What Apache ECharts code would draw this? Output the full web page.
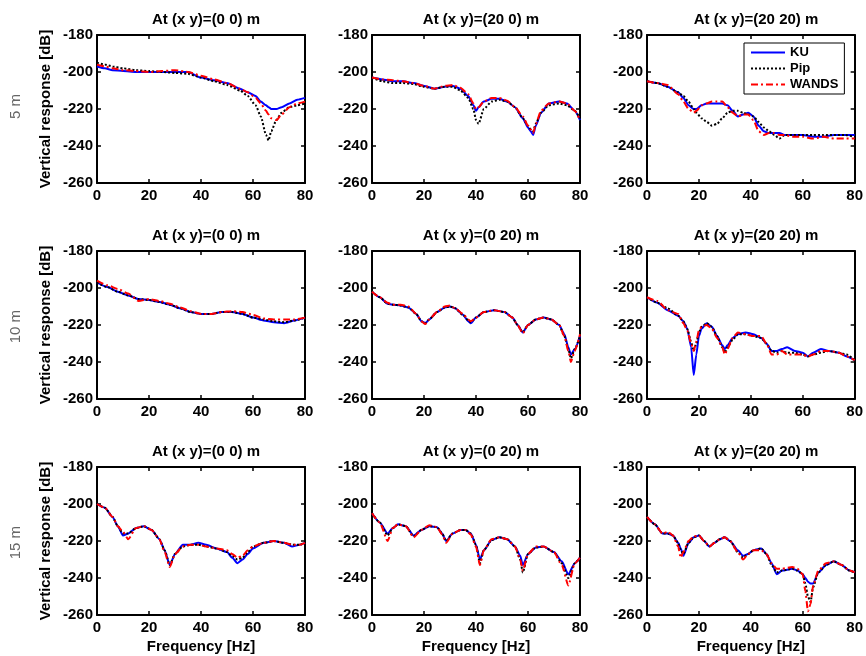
<!DOCTYPE html>
<html>
<head>
<meta charset="utf-8">
<script src="https://cdn.jsdelivr.net/npm/echarts@6/dist/echarts.min.js"></script>
<style>html,body{margin:0;padding:0;background:#fff}#c{width:866px;height:656px}</style>
</head>
<body>
<div id="c"></div>
<script>
// ---- tick labels / categories ----
const xTicks = [0, 20, 40, 60, 80];
const yTicks = [-260, -240, -220, -200, -180];
const seriesNames = ['KU', 'Pip', 'WANDS'];
const rowLabels = ['5 m', '10 m', '15 m'];
const panelTitles = [
  'At (x y)=(0 0) m', 'At (x y)=(20 0) m', 'At (x y)=(20 20) m',
  'At (x y)=(0 0) m', 'At (x y)=(0 20) m', 'At (x y)=(20 20) m',
  'At (x y)=(0 0) m', 'At (x y)=(0 20) m', 'At (x y)=(20 20) m'
];

// ---- Panel 1: 5 m, (0 0) ----
const f1 = [0,3,6,10,15,20,25,30,35,40,45,50,55,58,61,63,65,66,67,69,71,74,77,80];
const ku1 = [-197,-198,-199,-199.5,-200,-200,-200,-200,-200,-203,-204.5,-206,-209,-211,-213,-216,-218,-219,-220,-220,-219,-217,-215,-214];
const pip1 = [-195,-196,-197,-198,-199,-199.5,-200,-200.5,-201,-203,-205,-207,-210,-213,-218,-224,-234,-237,-232,-226,-222,-219,-218,-217];
const wands1 = [-196,-197,-198,-199,-199.5,-200,-199.5,-199,-200,-202,-204,-206,-209,-211,-214,-217,-221,-223,-225,-226,-223,-219,-217,-216];

// ---- Panel 2: 5 m, (20 0) ----
const f2 = [0,4,8,12,16,20,24,28,31,34,37,39,40,41,43,46,49,52,55,58,60,61,62,63,65,68,72,75,78,80];
const ku2 = [-203,-204,-205,-205,-206,-207.5,-209,-208,-207.5,-209,-213,-218,-221,-219,-216,-214.5,-214.5,-216,-219,-225,-230,-232,-234,-229,-222,-217,-216,-217,-221,-226];
const pip2 = [-203,-205,-206,-206,-206.5,-208,-209,-208,-208,-210,-214,-220,-226,-228,-220,-216,-215,-216,-219,-225,-229,-231,-232,-228,-222,-218,-217,-218,-221,-225];
const wands2 = [-203,-204,-204.5,-205,-206,-207.5,-209,-207.5,-207,-208.5,-212,-217,-220,-219,-216,-214,-214,-215.5,-219,-224,-229,-231,-233,-228,-221,-217,-216,-217,-221,-226];

// ---- Panel 3: 5 m, (20 20) ----
const f3 = [0,4,8,12,14,16,18,19,21,23,25,27,29,31,33,35,37,39,41,43,45,47,49,51,53,56,60,64,68,72,76,80];
const ku3 = [-205,-206,-208,-211,-214,-218,-220,-220,-218,-217,-217,-217,-217,-218,-221,-224,-223,-222,-224,-229,-232,-233,-233,-233,-234,-234,-234,-235,-235,-234,-234,-234];
const pip3 = [-205,-206,-208,-211,-213,-216,-220,-222,-225,-227,-229,-228,-225,-222,-221,-221,-222,-223,-224,-227,-230,-232,-234,-236,-234,-234,-234,-234,-234,-234,-234,-235];
const wands3 = [-205,-206,-207,-212,-216,-220,-222,-221,-218,-217,-216,-216,-216,-219,-222,-224,-223,-223,-226,-232,-234,-233,-233,-234,-234,-235,-235,-236,-235,-236,-236,-236];

// ---- Panel 4: 10 m, (0 0) ----
const f4 = [0,4,8,12,16,20,24,28,32,36,40,44,48,52,56,60,64,68,72,76,80];
const ku4 = [-197,-199.5,-202,-204,-206,-206.5,-207.5,-209,-211,-213,-214,-214,-213,-213,-214,-216,-217.5,-218.5,-219,-217.5,-216];
const pip4 = [-197,-199.5,-202,-204,-206,-206.5,-207.5,-209,-211,-213,-214,-214,-213,-213,-214,-216,-217,-218,-218.5,-217.5,-216];
const wands4 = [-196,-198.5,-200.5,-203,-207,-206,-207,-208.5,-210.5,-212.5,-214,-214,-213,-212.5,-213,-214.5,-216.5,-217,-217,-217,-216];

// ---- Panel 5: 10 m, (0 20) ----
const f5 = [0,3,6,8,11,14,17,19,20.5,22,25,28,30,32,35,37,38,40,43,47,51,54,56,58,60,63,66,69,72,74,75.5,76.5,78,80];
const ku5 = [-202,-205,-208.5,-209,-209.5,-210.5,-214,-218,-219,-217,-213,-210.5,-210,-211,-214.5,-218,-219,-216,-213,-212,-213,-216,-220,-224,-220,-217,-216,-217,-220,-225,-232,-236,-233,-226];
const pip5 = [-202,-205,-208.5,-209,-209.5,-210.5,-214,-218,-219,-217,-213,-210.5,-210,-211,-214.5,-217.5,-218.5,-216,-213,-212,-213,-216,-220,-224,-220,-217,-216,-217,-220,-226,-233,-238,-233,-226];
const wands5 = [-202,-205,-208,-209,-209,-210,-214,-218,-219.5,-217,-213,-210,-209.5,-211,-214,-217,-218,-216,-213,-212,-213,-216,-220,-224.5,-220,-217,-216,-217,-220,-226,-234,-240,-234,-225];

// ---- Panel 6: 10 m, (20 20) ----
const f6 = [0,4,8,12,14,15.5,17,18,19,20,21,23,25,27,29,30,31,33,35,38,41,44,46,48,50,52,54,57,60,62,64,67,70,74,77,80];
const ku6 = [-205,-208,-212,-215,-218,-222,-232,-247,-236,-226,-222,-219,-221,-226,-231,-233,-231,-227,-225,-224,-225,-227,-230,-234,-234,-233,-232,-234,-235,-237,-235,-233,-234,-235,-237,-239];
const pip6 = [-205,-208,-211,-215,-218,-222,-229,-234,-230,-224,-221,-219,-221,-226,-232,-235,-232,-228,-225,-225,-226,-227,-230,-234,-235,-234,-235,-235,-236,-237,-236,-235,-234,-235,-236,-239];
const wands6 = [-205,-207,-212,-214,-219,-223,-230,-234,-229,-223,-221,-220,-222,-227,-232,-236,-233,-227,-224,-225,-226,-226,-230,-236,-236,-234,-236,-236,-236,-237,-236,-234,-234,-235,-237,-239];

// ---- Panel 7: 15 m, (0 0) ----
const f7 = [0,3,6,8,10,12,15,18,21,24,26,28,30,33,36,39,42,46,50,52,54,56,58,60,64,68,72,75,78,80];
const ku7 = [-200,-202,-207,-212,-217,-216,-213,-212,-214,-219,-225,-233,-227,-222,-222,-221,-222,-224,-226,-229,-232,-230,-227,-224,-221,-220,-221,-223,-222,-221];
const pip7 = [-200,-202,-207,-212,-216,-216,-213,-212,-214,-219,-225,-233,-227,-223,-222,-222,-223,-224,-226,-228,-230,-229,-226,-223,-221,-220,-221,-222,-222,-221];
const wands7 = [-200,-202,-207,-212,-215,-219,-213,-212,-214,-219,-226,-234,-227,-223,-222,-222,-223,-224,-225,-227,-229,-228,-225,-223,-221,-220,-221,-222,-222,-221];

// ---- Panel 8: 15 m, (0 20) ----
const f8 = [0,3,6,8,10,13,16,19,22,25,27,28.5,31,34,36,38,40,41.5,43,46,49,52,55,57,58,60,63,66,70,73,75.5,78,80];
const ku8 = [-205,-210,-216,-213,-211,-212,-217,-214,-212,-212.5,-216,-220,-216,-214,-214,-216,-222,-230,-225,-219.5,-218,-219,-223,-228,-233,-227,-223.5,-223,-226,-231,-238,-232,-229];
const pip8 = [-205,-210,-217,-213,-211,-212,-217.5,-214,-212,-212.5,-216,-220,-216,-214,-214,-216,-222,-232,-225,-219.5,-218,-219,-223,-230,-237,-227,-223.5,-223,-226,-232,-240,-232,-229];
const wands8 = [-205,-210,-220,-213,-211,-212,-218,-214,-211.5,-212.5,-216.5,-221,-216,-214,-214,-216.5,-223,-233,-225,-219,-218,-219,-223,-230,-236,-227,-223,-223,-226,-233,-244,-232,-229];

// ---- Panel 9: 15 m, (20 20) ----
const f9 = [0,3,6,8,10,12,13,14,16,18,20,22,24,26,28,30,32,35,37,39,41,44,46,48,50,52,56,58,60,61,62,63,64,66,69,72,75,78,80];
const ku9 = [-207,-211,-216,-216,-217,-221,-224,-228,-221,-218,-217,-220,-223,-221,-219,-218,-220,-225,-228,-227,-225,-224,-227,-232,-238,-236,-235,-236,-238,-240,-242,-243,-243,-237,-233,-231,-233,-236,-237];
const pip9 = [-207,-211,-216,-216,-217,-221,-225,-227,-221,-218,-217,-220,-223,-221,-219,-218,-220,-226,-229,-227,-225,-224,-227,-233,-237,-236,-235,-236,-238,-243,-250,-253,-245,-237,-233,-231,-233,-236,-237];
const wands9 = [-207,-211,-216,-215,-217,-223,-229,-226,-220,-217.5,-217,-220,-223,-221,-219,-218,-220,-226,-230,-227,-225,-225,-227,-232,-235,-235,-234,-235,-238,-247,-258,-254,-244,-236,-232,-231,-233,-236,-237];

const panels = [
  [f1, ku1, pip1, wands1], [f2, ku2, pip2, wands2], [f3, ku3, pip3, wands3],
  [f4, ku4, pip4, wands4], [f5, ku5, pip5, wands5], [f6, ku6, pip6, wands6],
  [f7, ku7, pip7, wands7], [f8, ku8, pip8, wands8], [f9, ku9, pip9, wands9]
];

// ---- layout ----
const colLeft = [97, 372, 647];
const rowTop = [35, 251, 467];
const W = 208, H = 148;
const FONT = 'Liberation Sans, Arial, sans-serif';
const lineStyles = [
  { color: '#0000ff', width: 2, type: 'solid' },
  { color: '#000000', width: 2, type: [2, 2] },
  { color: '#ff0000', width: 2, type: [7, 3, 2, 3] }
];

const grids = [], xAxes = [], yAxes = [], series = [], titles = [], graphics = [];
panels.forEach((p, i) => {
  const r = Math.floor(i / 3), c = i % 3;
  grids.push({ left: colLeft[c], top: rowTop[r], width: W, height: H, containLabel: false });
  const baseX = {
    type: 'value', gridIndex: i, min: xTicks[0], max: xTicks[xTicks.length - 1], interval: 20,
    axisLine: { show: true, onZero: false, lineStyle: { color: '#000', width: 2 } },
    axisTick: { show: true, inside: true, length: 4, lineStyle: { color: '#000', width: 1.5 } },
    splitLine: { show: false }
  };
  xAxes.push(Object.assign({}, baseX, {
    position: 'bottom',
    axisLabel: { color: '#000', fontWeight: 'bold', fontSize: 15, fontFamily: FONT, margin: 5 },
    name: r === 2 ? 'Frequency [Hz]' : '', nameLocation: 'middle', nameGap: 24,
    nameTextStyle: { color: '#000', fontWeight: 'bold', fontSize: 15, fontFamily: FONT }
  }));
  xAxes.push(Object.assign({}, baseX, { position: 'top', axisLabel: { show: false } }));
  const baseY = {
    type: 'value', gridIndex: i, min: yTicks[0], max: yTicks[yTicks.length - 1], interval: 20,
    axisLine: { show: true, onZero: false, lineStyle: { color: '#000', width: 2 } },
    axisTick: { show: true, inside: true, length: 4, lineStyle: { color: '#000', width: 1.5 } },
    splitLine: { show: false }
  };
  yAxes.push(Object.assign({}, baseY, {
    position: 'left',
    axisLabel: { color: '#000', fontWeight: 'bold', fontSize: 15, fontFamily: FONT, margin: 4 },
    name: c === 0 ? 'Vertical response [dB]' : '', nameLocation: 'middle', nameGap: 44, nameRotate: 90,
    nameTextStyle: { color: '#000', fontWeight: 'bold', fontSize: 15, fontFamily: FONT }
  }));
  yAxes.push(Object.assign({}, baseY, { position: 'right', axisLabel: { show: false } }));
  titles.push({
    text: panelTitles[i], left: colLeft[c] + W / 2, top: rowTop[r] - 28, textAlign: 'center',
    textStyle: { color: '#000', fontWeight: 'bold', fontSize: 15, fontFamily: FONT }
  });
  for (let s = 0; s < 3; s++) {
    series.push({
      name: seriesNames[s], type: 'line', xAxisIndex: 2 * i, yAxisIndex: 2 * i,
      symbol: 'none', showSymbol: false, smooth: 0.2, smoothMonotone: 'x', animation: false,
      lineStyle: lineStyles[s], itemStyle: { color: lineStyles[s].color },
      data: p[0].map((f, k) => [f, p[s + 1][k]])
    });
  }
});
rowLabels.forEach((t, r) => {
  graphics.push({
    type: 'text', left: 8, top: rowTop[r] + H / 2 - 15, rotation: Math.PI / 2,
    style: { text: t, fill: '#666', fontSize: 15, fontFamily: FONT }
  });
});

const chart = echarts.init(document.getElementById('c'), null, { renderer: 'canvas' });
chart.setOption({
  backgroundColor: '#fff',
  animation: false,
  title: titles,
  grid: grids,
  xAxis: xAxes,
  yAxis: yAxes,
  series: series,
  graphic: graphics,
  legend: {
    data: seriesNames, orient: 'vertical', left: 744, top: 43,
    backgroundColor: '#fff', borderColor: '#000', borderWidth: 1, padding: [3, 6, 3, 6],
    itemWidth: 34, itemHeight: 10, itemGap: 3,
    itemStyle: { opacity: 0 },
    textStyle: { color: '#000', fontWeight: 'bold', fontSize: 13, fontFamily: FONT }
  }
});
</script>
</body>
</html>
